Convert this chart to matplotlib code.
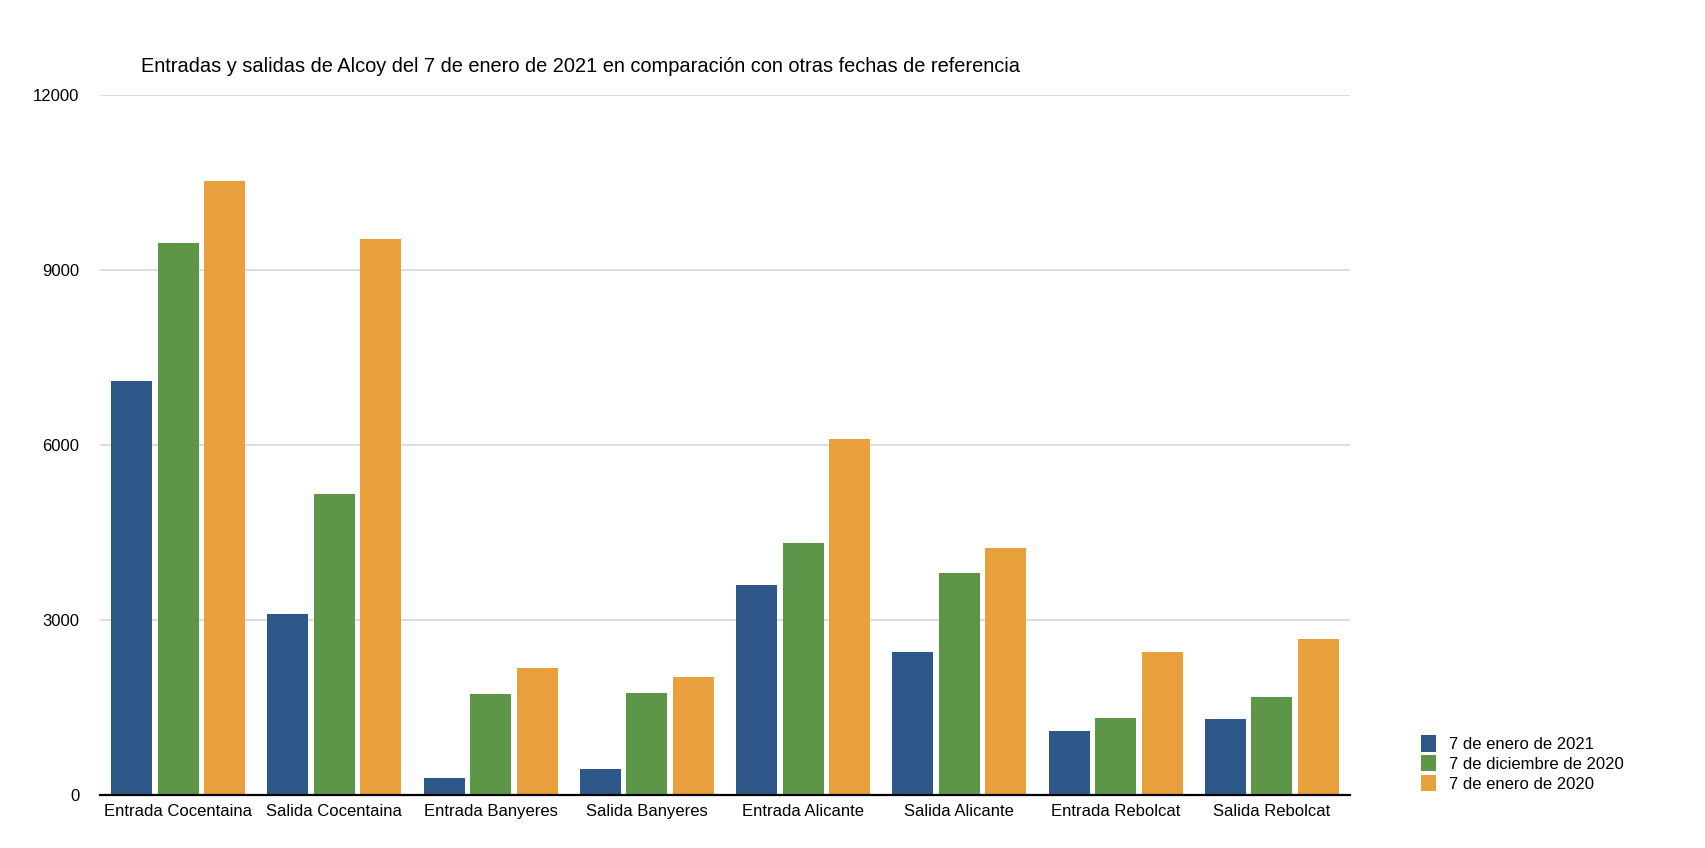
import matplotlib
matplotlib.use("Agg")
import matplotlib.pyplot as plt
import numpy as np

plt.rcParams['font.family'] = ['Liberation Sans', 'DejaVu Sans']

categorias = ['Entrada Cocentaina', 'Salida Cocentaina', 'Entrada Banyeres', 'Salida Banyeres',
              'Entrada Alicante', 'Salida Alicante', 'Entrada Rebolcat', 'Salida Rebolcat']
enero_2021 = [7100, 3100, 300, 450, 3600, 2450, 1095, 1310]
diciembre_2020 = [9460, 5160, 1740, 1745, 4315, 3810, 1312, 1675]
enero_2020 = [10525, 9530, 2170, 2020, 6100, 4240, 2455, 2678]
series = ['7 de enero de 2021', '7 de diciembre de 2020', '7 de enero de 2020']
colores = ['#2E588A', '#5E9648', '#E8A03C']
y_ticks = [0, 3000, 6000, 9000, 12000]

fig = plt.figure(figsize=(17.05, 8.48), dpi=100)
ax = fig.add_axes([100 / 1705, 53 / 848, 1250 / 1705, 700 / 848])

x = np.arange(len(categorias))
w = 0.262
paso = 0.298
for i, (vals, nombre, c) in enumerate(zip([enero_2021, diciembre_2020, enero_2020], series, colores)):
    ax.bar(x + (i - 1) * paso, vals, width=w, color=c, label=nombre, zorder=3)

ax.set_xlim(-0.5, len(categorias) - 0.5)
ax.set_ylim(0, 12000)
ax.set_yticks(y_ticks)
ax.set_yticklabels([str(v) for v in y_ticks])
ax.set_xticks(x)
ax.set_xticklabels(categorias)
ax.tick_params(axis='x', length=0, pad=6.5, labelsize=12)
ax.tick_params(axis='y', length=0, pad=15, labelsize=12)
ax.grid(axis='y', color='#D3D3D3', linewidth=1.1, zorder=0)

for s in ['top', 'right', 'left']:
    ax.spines[s].set_visible(False)
ax.spines['bottom'].set_color('black')
ax.spines['bottom'].set_linewidth(1.6)
ax.spines['bottom'].set_zorder(4)

fig.text(141 / 1705, 1 - 66 / 848,
         'Entradas y salidas de Alcoy del 7 de enero de 2021 en comparación con otras fechas de referencia',
         fontsize=14.4, va='center', ha='left')

fig.legend(loc='upper left', bbox_to_anchor=(1421 / 1705, 1 - 735 / 848), frameon=False,
           fontsize=12, handlelength=0.9, handleheight=1.15, handletextpad=0.8,
           labelspacing=0.18, borderpad=0, borderaxespad=0)

fig.savefig('out.png', dpi=100)
